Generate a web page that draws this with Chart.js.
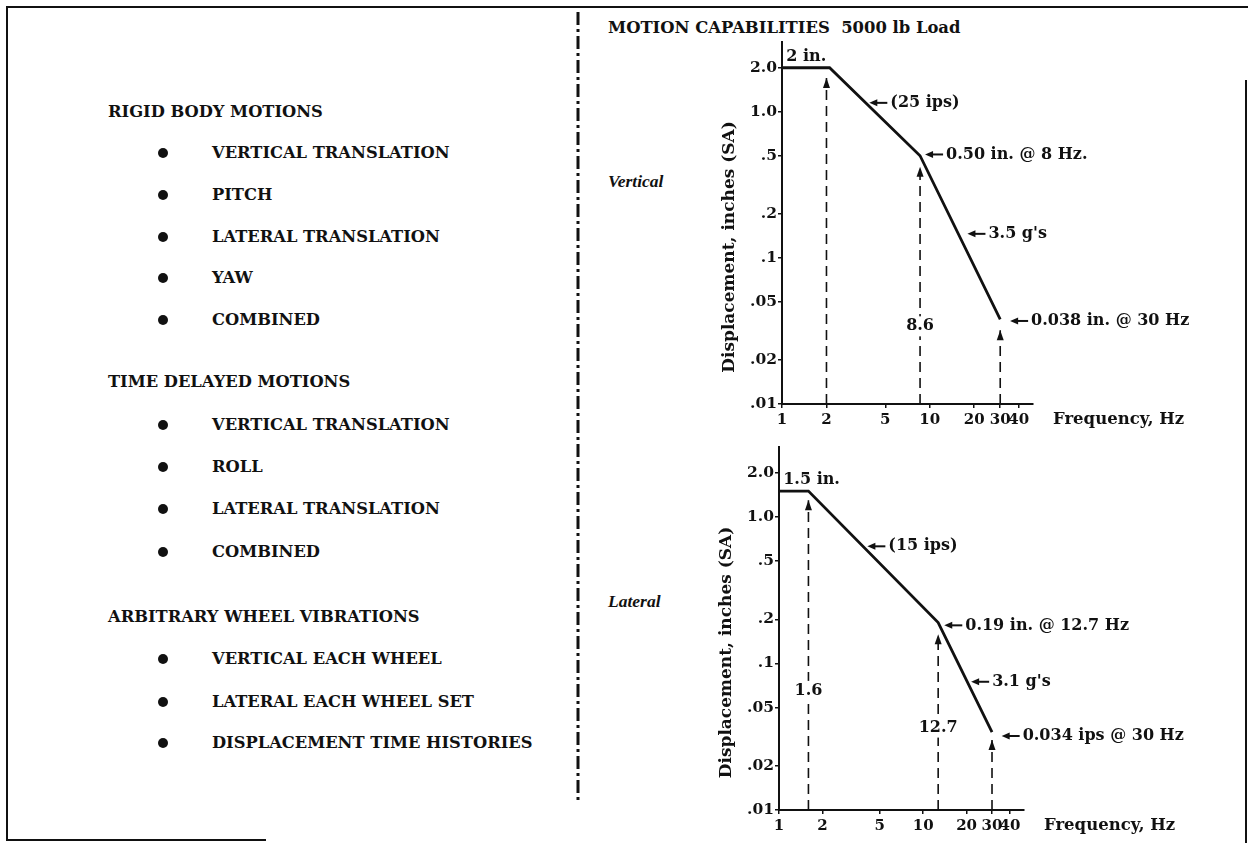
<!DOCTYPE html>
<html>
<head>
<meta charset="utf-8">
<script src="https://cdn.jsdelivr.net/npm/chart.js@4.4.0/dist/chart.umd.min.js"></script>
<style>
  body { margin: 0; background: #fff; width: 1248px; height: 843px; position: relative; overflow: hidden;
         font-family: "DejaVu Serif", serif; font-weight: bold; color: #111; }
  .t { position: absolute; white-space: nowrap; font-size: 16.3px; line-height: 16px; }
  .side { font-family: "Liberation Serif", serif; font-style: italic; font-size: 17.5px; }
  .dot { position: absolute; width: 10px; height: 10px; border-radius: 50%; background: #111; }
  .line { position: absolute; background: #111; }
  canvas { position: absolute; }
</style>
</head>
<body>
<svg width="1248" height="843" style="position:absolute;left:0;top:0">
  <line x1="578" y1="12" x2="578" y2="802" stroke="#111" stroke-width="3" stroke-dasharray="13 4 3 4"/>
</svg>
<div class="line" style="left:8px;top:6px;width:1240px;height:2px"></div>
<div class="line" style="left:6px;top:6px;width:2px;height:835px"></div>
<div class="line" style="left:6px;top:839px;width:260px;height:2px"></div>
<div class="line" style="left:1245px;top:80px;width:2px;height:763px"></div>

<div id="list"></div>

<div class="t" style="left:608px;top:20px;font-size:16.4px">MOTION CAPABILITIES&nbsp;&nbsp;5000 lb Load</div>
<div class="t side" style="left:608px;top:173px">Vertical</div>
<div class="t side" style="left:608px;top:593px">Lateral</div>

<canvas id="vert" width="548" height="440" style="left:700px;top:0px;width:548px;height:440px"></canvas>
<canvas id="lat" width="548" height="413" style="left:700px;top:430px;width:548px;height:413px"></canvas>

<script>
// ---- left hand list ----
const headings = ["RIGID BODY MOTIONS", "TIME DELAYED MOTIONS", "ARBITRARY WHEEL VIBRATIONS"];
const headingY = [112, 382, 617];
const items = [
  ["VERTICAL TRANSLATION", "PITCH", "LATERAL TRANSLATION", "YAW", "COMBINED"],
  ["VERTICAL TRANSLATION", "ROLL", "LATERAL TRANSLATION", "COMBINED"],
  ["VERTICAL EACH WHEEL", "LATERAL EACH WHEEL SET", "DISPLACEMENT TIME HISTORIES"]
];
const itemY = [
  [153, 195, 237, 278, 320],
  [425, 467, 509, 552],
  [659, 702, 743]
];

// ---- chart data ----
const xTicks = [1, 2, 5, 10, 20, 30, 40];
const xTickLabels = ["1", "2", "5", "10", "20", "30", "40"];
const yTicks = [2, 1, 0.5, 0.2, 0.1, 0.05, 0.02, 0.01];
const yTickLabels = ["2.0", "1.0", ".5", ".2", ".1", ".05", ".02", ".01"];

// vertical motion envelope
const freqV = [1, 2.1, 8.6, 30];
const dispV = [2.0, 2.0, 0.5, 0.038];
// dashed markers (frequency, where the arrow head stops)
const markFreqV = [2, 8.6, 30];
const markTipV = [1.7, 0.42, 0.032];
const markTextV = ["", "8.6", ""];
const markTextYV = [0, 0.034, 0];
// arrow notes (point the arrow touches)
const noteXV = [3.9, 9.3, 18, 35];
const noteYV = [1.15, 0.51, 0.146, 0.037];
const noteTextV = ["(25 ips)", "0.50 in. @ 8 Hz.", "3.5 g's", "0.038 in. @ 30 Hz"];

// lateral motion envelope
const freqL = [1, 1.6, 12.7, 30];
const dispL = [1.5, 1.5, 0.19, 0.034];
const markFreqL = [1.6, 12.7, 30];
const markTipL = [1.3, 0.158, 0.03];
const markTextL = ["1.6", "12.7", ""];
const markTextYL = [0.065, 0.0365, 0];
const noteXL = [4.1, 14, 21.5, 35];
const noteYL = [0.63, 0.182, 0.075, 0.032];
const noteTextL = ["(15 ips)", "0.19 in. @ 12.7 Hz", "3.1 g's", "0.034 ips @ 30 Hz"];

const INK = "#111";
const FONT = '"DejaVu Serif", serif';

const list = document.getElementById("list");
headings.forEach((h, s) => {
  const d = document.createElement("div");
  d.className = "t";
  d.style.left = "108px";
  d.style.top = (headingY[s] - 8) + "px";
  d.textContent = h;
  list.appendChild(d);
  items[s].forEach((it, i) => {
    const b = document.createElement("div");
    b.className = "dot";
    b.style.left = "158px";
    b.style.top = (itemY[s][i] - 5) + "px";
    list.appendChild(b);
    const t = document.createElement("div");
    t.className = "t";
    t.style.left = "212px";
    t.style.top = (itemY[s][i] - 8) + "px";
    t.textContent = it;
    list.appendChild(t);
  });
});

// draws the arrows, notes, marker numbers and axis captions
const notesPlugin = {
  id: "notes",
  afterDatasetsDraw(chart, args, opts) {
    const { ctx, chartArea, scales: { x, y } } = chart;
    ctx.save();
    ctx.fillStyle = INK;
    ctx.strokeStyle = INK;

    // arrow heads on the dashed markers
    opts.markFreq.forEach((f, i) => {
      const px = x.getPixelForValue(f), py = y.getPixelForValue(opts.markTip[i]);
      ctx.beginPath();
      ctx.moveTo(px, py);
      ctx.lineTo(px - 3.5, py + 10);
      ctx.lineTo(px + 3.5, py + 10);
      ctx.closePath();
      ctx.fill();
      if (opts.markText[i]) {
        ctx.font = "bold 16px " + FONT;
        const ty = y.getPixelForValue(opts.markTextY[i]);
        const w = ctx.measureText(opts.markText[i]).width;
        ctx.fillStyle = "#fff";
        ctx.fillRect(px - w / 2 - 2, ty - 10, w + 4, 20);
        ctx.fillStyle = INK;
        ctx.textAlign = "center";
        ctx.textBaseline = "middle";
        ctx.fillText(opts.markText[i], px, ty);
      }
    });

    // left pointing arrows with their notes
    ctx.font = "bold 16px " + FONT;
    ctx.textAlign = "left";
    ctx.textBaseline = "middle";
    opts.noteX.forEach((nx, i) => {
      const px = x.getPixelForValue(nx), py = y.getPixelForValue(opts.noteY[i]);
      ctx.lineWidth = 2;
      ctx.beginPath();
      ctx.moveTo(px + 4, py);
      ctx.lineTo(px + 18, py);
      ctx.stroke();
      ctx.beginPath();
      ctx.moveTo(px, py);
      ctx.lineTo(px + 8, py - 3.5);
      ctx.lineTo(px + 8, py + 3.5);
      ctx.closePath();
      ctx.fill();
      ctx.fillText(opts.noteText[i], px + 21, py);
    });

    // plateau label
    ctx.textBaseline = "bottom";
    ctx.fillText(opts.plateau, x.getPixelForValue(1.07), y.getPixelForValue(opts.plateauY) - 3);

    // axis captions
    ctx.textBaseline = "middle";
    ctx.font = "bold 16.5px " + FONT;
    ctx.fillText("Frequency, Hz", chartArea.right + 20, chartArea.bottom + 16);
    ctx.translate(chartArea.left - 52, (chartArea.top + chartArea.bottom) / 2 + 24);
    ctx.rotate(-Math.PI / 2);
    ctx.textAlign = "center";
    ctx.font = "bold 17px " + FONT;
    ctx.fillText("Displacement, inches (SA)", 0, 0);
    ctx.restore();
  }
};

function buildChart(id, freq, disp, mFreq, mTip, mText, mTextY, nX, nY, nText, plateau, plateauY, pad, yWidth) {
  const markSets = mFreq.map((f, i) => ({
    data: [{ x: f, y: 0.01 }, { x: f, y: mTip[i] }],
    borderColor: INK,
    borderWidth: 1.6,
    borderDash: [10, 6],
    pointRadius: 0
  }));
  return new Chart(document.getElementById(id), {
    type: "line",
    data: {
      datasets: [{
        data: freq.map((f, i) => ({ x: f, y: disp[i] })),
        borderColor: INK,
        borderWidth: 2.8,
        pointRadius: 0,
        tension: 0
      }, ...markSets]
    },
    options: {
      responsive: false,
      animation: false,
      events: [],
      layout: { padding: pad },
      plugins: {
        legend: { display: false },
        tooltip: { enabled: false },
        notes: {
          markFreq: mFreq, markTip: mTip, markText: mText, markTextY: mTextY,
          noteX: nX, noteY: nY, noteText: nText, plateau: plateau, plateauY: plateauY
        }
      },
      scales: {
        x: {
          type: "logarithmic",
          min: 1, max: 50,
          afterBuildTicks: s => { s.ticks = xTicks.map(v => ({ value: v })); },
          afterFit: s => { s.height = 30; },
          border: { display: true, color: INK, width: 2 },
          grid: { drawOnChartArea: false, drawTicks: true, tickLength: 4, color: INK, lineWidth: 1.5 },
          ticks: {
            color: INK, padding: 3, maxRotation: 0, autoSkip: false,
            font: { family: FONT, size: 15, weight: "bold" },
            callback: (v, i) => xTickLabels[i]
          }
        },
        y: {
          type: "logarithmic",
          min: 0.01, max: 3,
          afterBuildTicks: s => { s.ticks = yTicks.map(v => ({ value: v })); },
          afterFit: s => { s.width = yWidth; },
          border: { display: true, color: INK, width: 2 },
          grid: { drawOnChartArea: false, drawTicks: true, tickLength: 4, color: INK, lineWidth: 1.5 },
          ticks: {
            color: INK, padding: 1, autoSkip: false,
            font: { family: FONT, size: 15.5, weight: "bold" },
            callback: (v, i) => yTickLabels[i]
          }
        }
      }
    },
    plugins: [notesPlugin]
  });
}

buildChart("vert", freqV, dispV, markFreqV, markTipV, markTextV, markTextYV,
  noteXV, noteYV, noteTextV, "2 in.", 2.0,
  { left: 0, top: 42, right: 215, bottom: 6 }, 82);
buildChart("lat", freqL, dispL, markFreqL, markTipL, markTextL, markTextYL,
  noteXL, noteYL, noteTextL, "1.5 in.", 1.5,
  { left: 0, top: 17, right: 224, bottom: 3 }, 79);
</script>
</body>
</html>
